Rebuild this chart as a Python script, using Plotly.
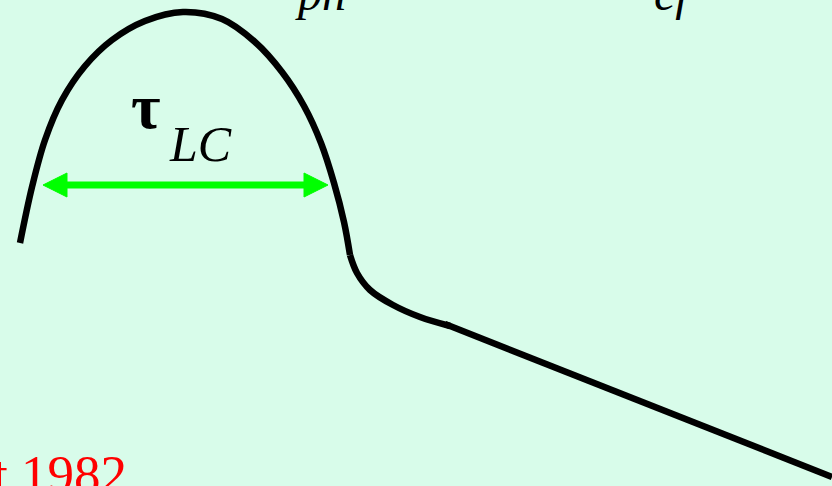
import plotly.graph_objects as go

# Light-curve sketch: a parabolic hump, a short bend and a linear decline
hump_x = [20, 32, 45, 62, 85, 112, 145, 183, 222, 255, 282, 304, 321, 334, 344, 350]
hump_y = [243, 187, 140, 100, 66, 40, 21, 12, 19, 42, 72, 106, 143, 183, 222, 255]

bend_x = [350, 357, 370, 393, 420, 450]
bend_y = [255, 273, 290, 305, 317, 326]

tail_x = [445, 832]
tail_y = [324, 477]

# Width marker across the hump
arrow_y = 185
arrow_x0, arrow_x1 = 43, 328
head_len, head_half = 24, 12

BG = "#D8FCEA"
INK = "black"
GREEN = "#00FF00"
SERIF = "Liberation Serif, Times New Roman, serif"

fig = go.Figure()

for xs, ys in [(hump_x, hump_y), (bend_x, bend_y), (tail_x, tail_y)]:
    fig.add_trace(go.Scatter(x=xs, y=ys, mode="lines",
                             line=dict(color=INK, width=6.5, shape="spline", smoothing=1.0),
                             hoverinfo="skip", showlegend=False))

# arrow shaft
fig.add_trace(go.Scatter(x=[arrow_x0 + head_len - 2, arrow_x1 - head_len + 2],
                         y=[arrow_y, arrow_y], mode="lines",
                         line=dict(color=GREEN, width=7),
                         hoverinfo="skip", showlegend=False))
# arrow heads
for tip, d in [(arrow_x0, 1), (arrow_x1, -1)]:
    base = tip + d * head_len
    fig.add_trace(go.Scatter(x=[tip, base, base, tip],
                             y=[arrow_y, arrow_y - head_half, arrow_y + head_half, arrow_y],
                             mode="lines", fill="toself", fillcolor=GREEN,
                             line=dict(color=GREEN, width=1),
                             hoverinfo="skip", showlegend=False))

annotations = [
    dict(x=146, y=106, text="<b>τ</b>", font=dict(size=64, family=SERIF, color=INK)),
    dict(x=200, y=144, text="<i>LC</i>", font=dict(size=50, family=SERIF, color=INK)),
    # formula line running off the top edge
    dict(x=320, y=1, yshift=8, text="<i>ph</i>", font=dict(size=48, family=SERIF, color=INK)),
    dict(x=674, y=1, yshift=8, text="<i>ef</i>", font=dict(size=48, family=SERIF, color=INK)),
    # citation running off the bottom-left corner
    dict(x=0, xshift=-9, y=474, text="t 1982", xanchor="left",
         font=dict(size=53, family=SERIF, color="#FF0000")),
]
for a in annotations:
    a.setdefault("xanchor", "center")
    a.update(xref="x", yref="y", yanchor="middle", showarrow=False)

fig.update_layout(
    width=832, height=486,
    margin=dict(l=0, r=0, t=0, b=0),
    paper_bgcolor=BG, plot_bgcolor=BG,
    xaxis=dict(range=[0, 832], visible=False, fixedrange=True),
    yaxis=dict(range=[486, 0], visible=False, fixedrange=True),
    annotations=annotations,
)

fig.write_html("out.html", config={"displayModeBar": False})
